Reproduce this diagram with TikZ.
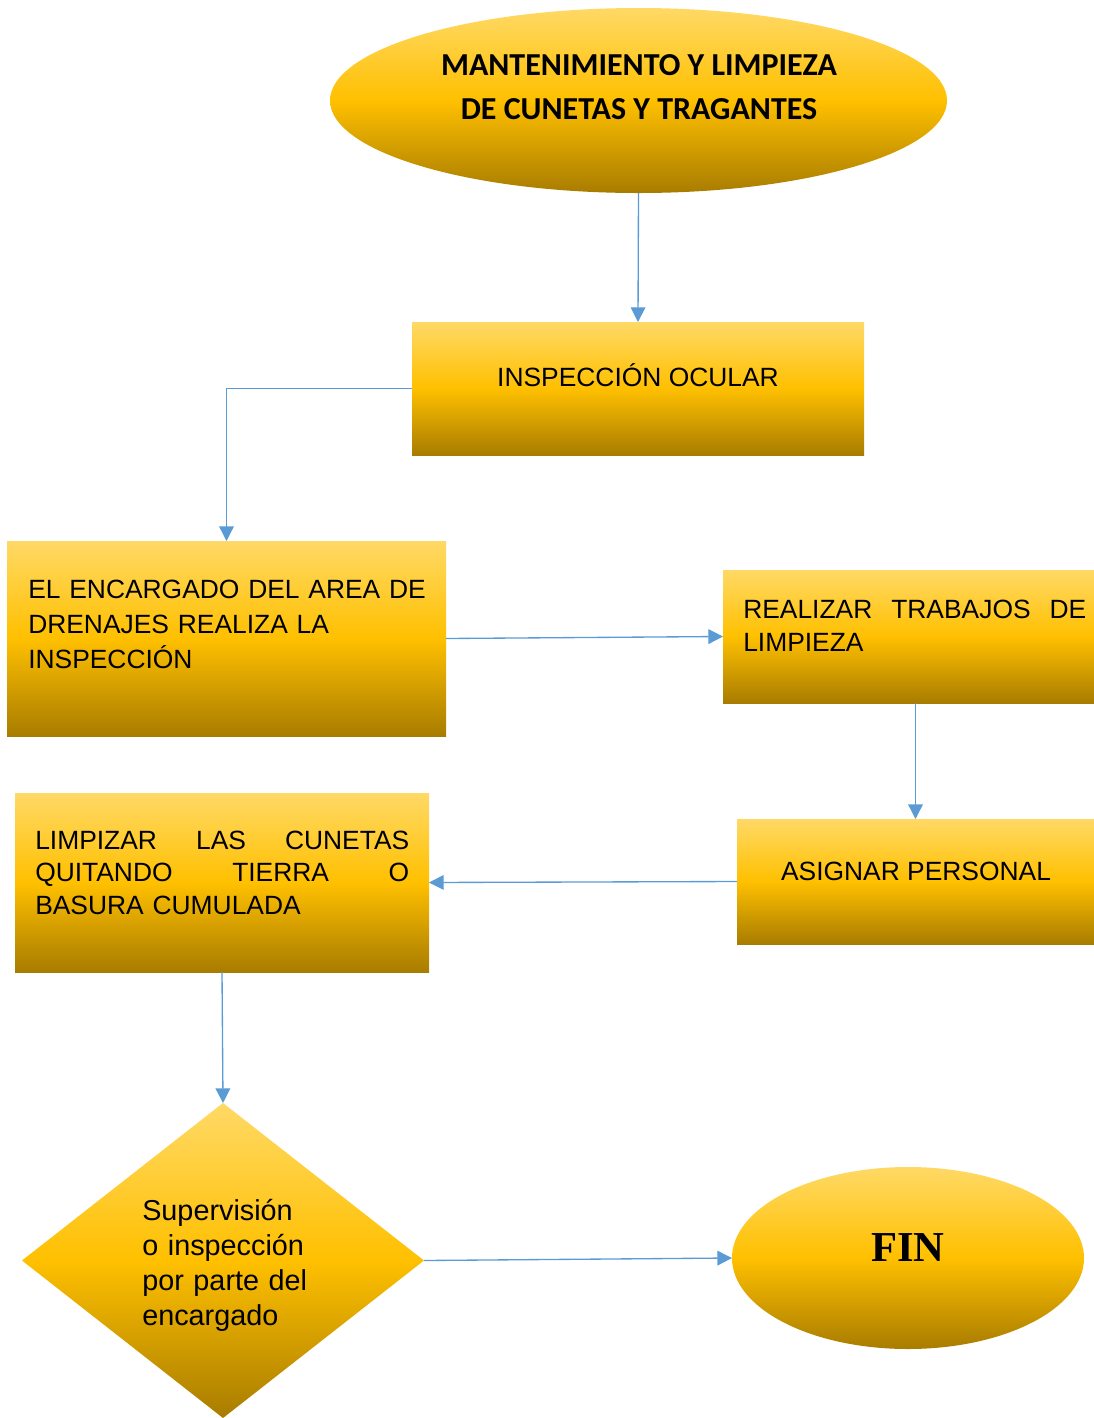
\documentclass[tikz,border=0pt]{standalone}
\usepackage{fontspec}
\setmainfont{Liberation Sans}
\newfontfamily\titlefont{Carlito}
\newfontfamily\finfont{Liberation Serif}
\usetikzlibrary{shapes.geometric,arrows.meta}
\definecolor{gtop}{RGB}{255,217,102}
\definecolor{gmid}{RGB}{255,192,0}
\definecolor{gbot}{RGB}{168,124,0}
\definecolor{connblue}{RGB}{91,155,213}
\newcommand{\spreadline}[2]{\leavevmode\hbox to #1{#2}}
\tikzset{
  gold/.style={draw=none, inner sep=0pt, outer sep=0pt, top color=gtop, bottom color=gbot, middle color=gmid},
  goldbox/.style={gold, rectangle},
  goldellipse/.style={gold, ellipse},
  golddiamond/.style={gold, diamond},
  connector/.style={draw=connblue, line width=1pt, -{Triangle[length=11pt,width=11pt]}},
  bodytext/.style={inner sep=0pt, font=\fontsize{19.8}{26.25}\selectfont},
}
\begin{document}
\begin{tikzpicture}[x=0.75pt,y=-0.75pt]
\useasboundingbox (0,0) rectangle (1094,1418);

% shapes
\node[goldellipse, minimum width=617*0.75pt, minimum height=185*0.75pt] (title) at (638.5,100.5) {};
\node[goldbox, minimum width=452*0.75pt, minimum height=133*0.75pt] (ins) at (638,388.5) {};
\node[goldbox, minimum width=439*0.75pt, minimum height=195*0.75pt] (enc) at (226.5,638.5) {};
\node[goldbox, minimum width=371*0.75pt, minimum height=133*0.75pt] (rea) at (908.5,636.5) {};
\node[goldbox, minimum width=357*0.75pt, minimum height=125*0.75pt] (asi) at (915.5,881.5) {};
\node[goldbox, minimum width=414*0.75pt, minimum height=179*0.75pt] (lim) at (222,882.5) {};
\node[golddiamond, minimum width=402*0.75pt, minimum height=315*0.75pt] (dia) at (223,1260.5) {};
\node[goldellipse, minimum width=352*0.75pt, minimum height=182*0.75pt] (fin) at (908,1258) {};

% texts
\node[inner sep=0pt, anchor=base, align=center, font=\titlefont\bfseries\fontsize{24}{33}\selectfont] (titletext) at (639,119)
  {MANTENIMIENTO Y LIMPIEZA\\DE CUNETAS Y TRAGANTES};
\node[bodytext, anchor=base] (instext) at (638,386) {INSPECCIÓN OCULAR};
\node[bodytext, anchor=base west, text width=300pt, align=left] (enctext) at (28,598)
  {EL ENCARGADO DEL AREA DE\\DRENAJES REALIZA LA\\INSPECCIÓN};
\node[bodytext, anchor=base west, text width=257.25pt, align=left, font=\fontsize{19.8}{24.75}\selectfont] (reatext) at (743,618)
  {\spreadline{257.25pt}{REALIZAR\hfill TRABAJOS\hfill DE}\\LIMPIEZA};
\node[bodytext, anchor=base] (asitext) at (916,880) {ASIGNAR PERSONAL};
\node[bodytext, anchor=base west, text width=280.5pt, align=left, font=\fontsize{19.8}{24.4}\selectfont] (limtext) at (35,849)
  {\spreadline{280.5pt}{LIMPIZAR\hfill LAS\hfill CUNETAS}\\\spreadline{280.5pt}{QUITANDO\hfill TIERRA\hfill O}\\BASURA CUMULADA};
\node[bodytext, anchor=base west, text width=180pt, align=left, font=\fontsize{21.6}{26.25}\selectfont] (diatext) at (142,1220)
  {Supervisión\\o inspección\\por parte del\\encargado};
\node[inner sep=0pt, anchor=base, font=\finfont\bfseries\fontsize{32}{36}\selectfont] (fintext) at (908,1261) {FIN};

% connectors
\draw[connector] (title.south) -- (ins.north);
\draw[connector] (ins.west) -| (enc.north);
\draw[connector] (enc.east) -- (rea.west);
\draw[connector] (rea.south -| asi.north) -- (asi.north);
\draw[connector] (asi.west) -- (lim.east);
\draw[connector] (lim.south) -- (dia.north);
\draw[connector] (dia.east) -- (fin.west);
\end{tikzpicture}
\end{document}
